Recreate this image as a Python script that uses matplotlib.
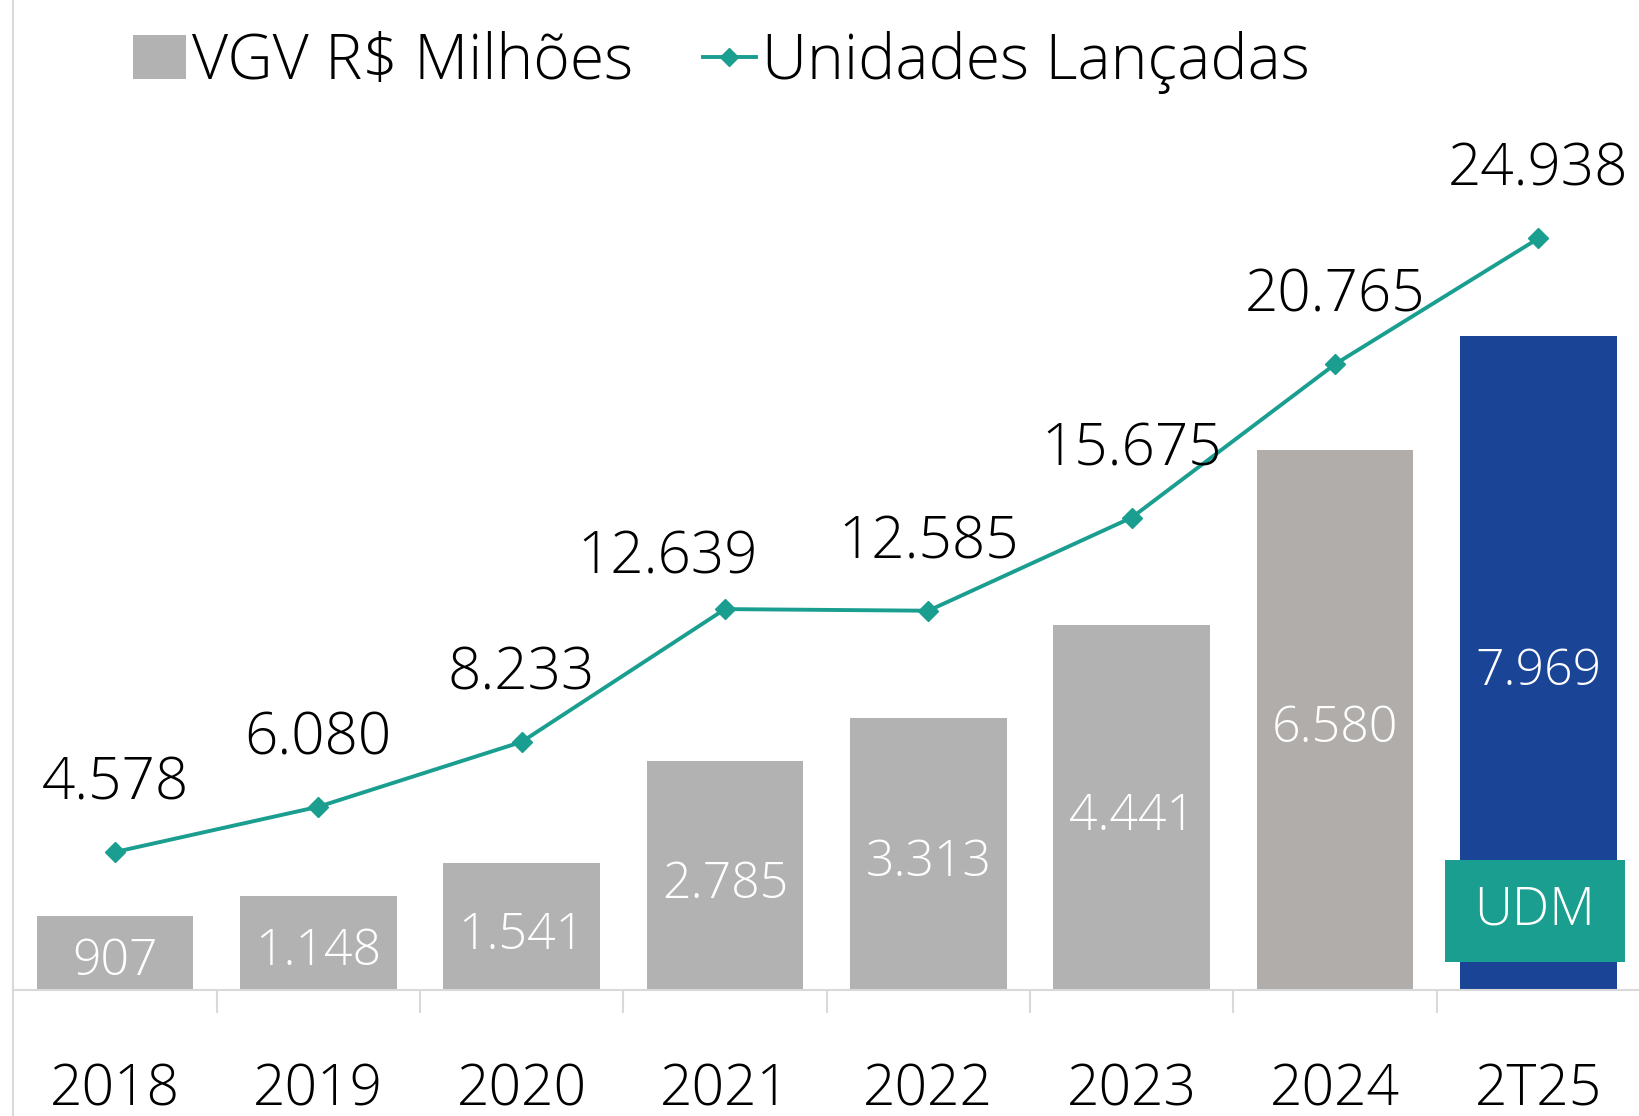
import matplotlib
matplotlib.use("Agg")
import matplotlib.pyplot as plt
from matplotlib.lines import Line2D
from matplotlib.patches import Patch, Rectangle

# ---- data ----
categories = ["2018", "2019", "2020", "2021", "2022", "2023", "2024", "2T25"]
vgv = [907, 1148, 1541, 2785, 3313, 4441, 6580, 7969]
unidades = [4578, 6080, 8233, 12639, 12585, 15675, 20765, 24938]
vgv_labels = ["907", "1.148", "1.541", "2.785", "3.313", "4.441", "6.580", "7.969"]
unid_labels = ["4.578", "6.080", "8.233", "12.639", "12.585", "15.675", "20.765", "24.938"]
legend_labels = ["VGV R$ Milhões", "Unidades Lançadas"]
udm_text = "UDM"

# ---- style ----
FONT = "Open Sans"
WEIGHT = 300
plt.rcParams["font.family"] = [FONT, "DejaVu Sans"]
plt.rcParams["font.weight"] = WEIGHT
GRAY = "#b2b2b2"
GRAY_2024 = "#b0adab"
BLUE = "#1a4496"
TEAL = "#1a9e90"
AXIS = "#d9d9d9"
bar_colors = [GRAY] * 6 + [GRAY_2024, BLUE]
# label offsets (points) for line labels; 2021 label was nudged left in the original
line_label_offsets = [(0, 49)] * 3 + [(-41, 37)] + [(0, 49)] * 4

W, H = 1639, 1116
fig = plt.figure(figsize=(W / 100, H / 100), dpi=100)
left_px, right_px, base_px = 13.3, 1640.0, 990.0
ax = fig.add_axes([left_px / W, 1 - base_px / H, (right_px - left_px) / W, base_px / H])
ax2 = ax.twinx()

x = list(range(len(categories)))
ax.bar(x, vgv, width=0.77, color=bar_colors, zorder=2)
ax.set_xlim(-0.5, len(categories) - 0.5)
ax.set_ylim(0, 12055)
ax2.set_ylim(0, 32850)

ax2.plot(x, unidades, color=TEAL, lw=2.8, marker="D", ms=10, zorder=3)

# bar labels
for xi, v, lab in zip(x, vgv, vgv_labels):
    ax.annotate(lab, (xi, v / 2), xytext=(0, -6.5), textcoords="offset points",
                ha="center", va="center", color="white", fontsize=36, zorder=4)

# line labels
for xi, v, lab, off in zip(x, unidades, unid_labels, line_label_offsets):
    ax2.annotate(lab, (xi, v), xytext=off, textcoords="offset points",
                 ha="center", va="center", color="black", fontsize=42, zorder=4)

# UDM box
i_last = len(categories) - 1
ax.add_patch(Rectangle((i_last - 0.44 - 0.02, 344), 0.884, 1234, facecolor=TEAL,
                       edgecolor="none", zorder=5))
ax.text(i_last - 0.02, 344 + 617, udm_text, ha="center", va="center",
        color="white", fontsize=38, zorder=6)

# axes styling
for a in (ax, ax2):
    for s in ("top", "right", "left"):
        a.spines[s].set_visible(False)
    a.set_yticks([])
ax.spines["bottom"].set_color(AXIS)
ax.spines["bottom"].set_linewidth(1.5)
ax2.spines["bottom"].set_visible(False)

ax.set_xticks([i + 0.5 for i in x[:-1]])
ax.set_xticklabels([])
ax.tick_params(axis="x", which="major", length=16.5, width=1.5, color=AXIS)
ax.set_xticks(x, minor=True)
ax.set_xticklabels(categories, minor=True, fontsize=41)
ax.tick_params(axis="x", which="minor", length=0, pad=51.5)

# left frame line
fig.add_artist(Line2D([left_px / W, left_px / W], [0, 1], color=AXIS, lw=1.5))

# legend
handles = [Patch(facecolor=GRAY, edgecolor="none"),
           Line2D([], [], color=TEAL, lw=2.8, marker="D", ms=9)]
fig.legend(handles, legend_labels, loc="center left",
           bbox_to_anchor=(133 / W, 1 - 62 / H), ncol=2, frameon=False,
           fontsize=45, handlelength=0.84, handleheight=0.7, handletextpad=0.1,
           columnspacing=1.12, borderpad=0, borderaxespad=0)

fig.savefig("out.png", dpi=100)
